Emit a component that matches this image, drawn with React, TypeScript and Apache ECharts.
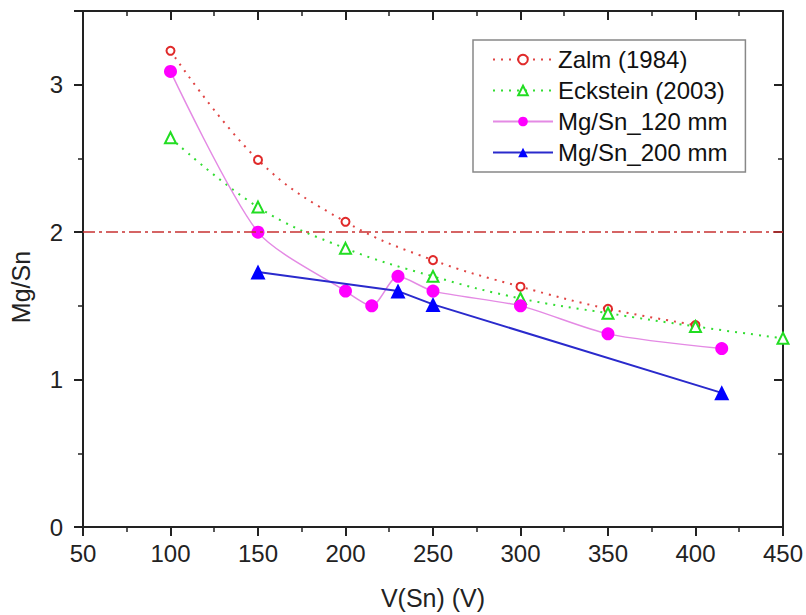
import React, { useEffect, useRef } from "react";
import * as echarts from "echarts";

const zalmX = [100, 150, 200, 250, 300, 350, 400];
const zalmY = [3.23, 2.49, 2.07, 1.81, 1.63, 1.48, 1.37];
const ecksteinX = [100, 150, 200, 250, 300, 350, 400, 450];
const ecksteinY = [2.64, 2.17, 1.89, 1.7, 1.55, 1.45, 1.36, 1.28];
const mg120X = [100, 150, 200, 215, 230, 250, 300, 350, 415];
const mg120Y = [3.09, 2.0, 1.6, 1.5, 1.7, 1.6, 1.5, 1.31, 1.21];
const mg200X = [150, 230, 250, 415];
const mg200Y = [1.73, 1.6, 1.51, 0.91];
const refLine = 2;
const xTitle = "V(Sn) (V)";
const yTitle = "Mg/Sn";

const FONT = "'Liberation Sans', Arial, sans-serif";
const AX = "#222";

const pairs = (xs: number[], ys: number[]) => xs.map((x, i) => [x, ys[i]]);

export default function App() {
  const ref = useRef<HTMLDivElement>(null);
  useEffect(() => {
    if (!ref.current) return;
    const chart = echarts.init(ref.current, undefined, { renderer: "svg" });
    const baseX = {
      type: "value" as const,
      min: 50,
      max: 450,
      interval: 50,
      splitLine: { show: false },
      axisLine: { show: true, onZero: false, lineStyle: { color: AX, width: 2 } },
      axisTick: { show: true, length: 9, lineStyle: { color: AX, width: 2 } },
      minorTick: { show: true, splitNumber: 2, length: 5, lineStyle: { color: AX, width: 1.5 } },
      minorSplitLine: { show: false },
    };
    const baseY = {
      type: "value" as const,
      min: 0,
      max: 3.5,
      splitLine: { show: false },
    };
    chart.setOption({
      animation: false,
      backgroundColor: "#fff",
      grid: { left: 83, right: 23, top: 11, bottom: 87, containLabel: false },
      legend: {
        orient: "vertical",
        left: 473,
        top: 40,
        padding: [4, 18, 4, 19],
        itemGap: 0,
        itemWidth: 60,
        itemHeight: 12,
        borderColor: "#888",
        borderWidth: 1.5,
        textStyle: { fontSize: 24, fontFamily: FONT, color: "#111", lineHeight: 31 },
        data: ["Zalm (1984)", "Eckstein (2003)", "Mg/Sn_120 mm", "Mg/Sn_200 mm"],
      },
      xAxis: [
        {
          ...baseX,
          position: "bottom",
          axisTick: { ...baseX.axisTick, inside: false },
          axisLabel: { fontSize: 24, fontFamily: FONT, color: AX, margin: 14 },
          name: xTitle,
          nameLocation: "middle",
          nameGap: 58,
          nameTextStyle: { fontSize: 25, fontFamily: FONT, color: AX },
        },
        {
          ...baseX,
          position: "top",
          axisTick: { ...baseX.axisTick, inside: true },
          axisLabel: { show: false },
        },
      ],
      yAxis: [
        {
          ...baseY,
          position: "left",
          interval: 1,
          axisLine: { show: true, onZero: false, lineStyle: { color: AX, width: 2 } },
          axisTick: { show: true, inside: false, length: 9, lineStyle: { color: AX, width: 2 } },
          axisLabel: {
            fontSize: 24,
            fontFamily: FONT,
            color: AX,
            margin: 20,
            formatter: (v: number) => (Number.isInteger(v) ? String(v) : ""),
          },
          name: yTitle,
          nameLocation: "middle",
          nameGap: 50,
          nameTextStyle: { fontSize: 25, fontFamily: FONT, color: AX, padding: [0, 36, 0, 0] },
        },
        {
          ...baseY,
          position: "left",
          interval: 0.5,
          axisLine: { show: false },
          axisTick: { show: true, inside: false, length: 5, lineStyle: { color: AX, width: 1.5 } },
          axisLabel: { show: false },
        },
        {
          ...baseY,
          position: "right",
          interval: 1,
          axisLine: { show: true, onZero: false, lineStyle: { color: AX, width: 2 } },
          axisTick: { show: true, inside: true, length: 9, lineStyle: { color: AX, width: 2 } },
          axisLabel: { show: false },
        },
        {
          ...baseY,
          position: "right",
          interval: 0.5,
          axisLine: { show: false },
          axisTick: { show: true, inside: true, length: 5, lineStyle: { color: AX, width: 1.5 } },
          axisLabel: { show: false },
        },
      ],
      series: [
        {
          name: "Zalm (1984)",
          type: "line",
          data: pairs(zalmX, zalmY),
          smooth: 0.4,
          symbol: "emptyCircle",
          symbolSize: 8,
          itemStyle: { color: "#e02a2a", borderWidth: 2 },
          lineStyle: { color: "#e04444", width: 2, type: [2, 6] },
          z: 3,
          markLine: {
            silent: true,
            symbol: ["none", "none"],
            label: { show: false },
            lineStyle: { color: "#c83232", width: 1.5, type: [12, 4, 3, 4] },
            data: [{ yAxis: refLine }],
          },
        },
        {
          name: "Eckstein (2003)",
          type: "line",
          data: pairs(ecksteinX, ecksteinY),
          smooth: 0.4,
          symbol: "emptyTriangle",
          symbolSize: 11,
          itemStyle: { color: "#22dd22", borderWidth: 2 },
          lineStyle: { color: "#33dd33", width: 2, type: [2, 6] },
          z: 3,
        },
        {
          name: "Mg/Sn_120 mm",
          type: "line",
          data: pairs(mg120X, mg120Y),
          smooth: 0.25,
          symbol: "circle",
          symbolSize: 13,
          itemStyle: { color: "#ff00ff" },
          lineStyle: { color: "#e48ae4", width: 1.5 },
          z: 4,
        },
        {
          name: "Mg/Sn_200 mm",
          type: "line",
          data: pairs(mg200X, mg200Y),
          symbol: "triangle",
          symbolSize: 15,
          itemStyle: { color: "#0000ff" },
          lineStyle: { color: "#2a2acc", width: 2 },
          z: 5,
        },
      ],
    });
    return () => chart.dispose();
  }, []);
  return (
    <div
      ref={ref}
      style={{ position: "absolute", left: 0, top: 0, width: 806, height: 615, background: "#fff" }}
    />
  );
}
